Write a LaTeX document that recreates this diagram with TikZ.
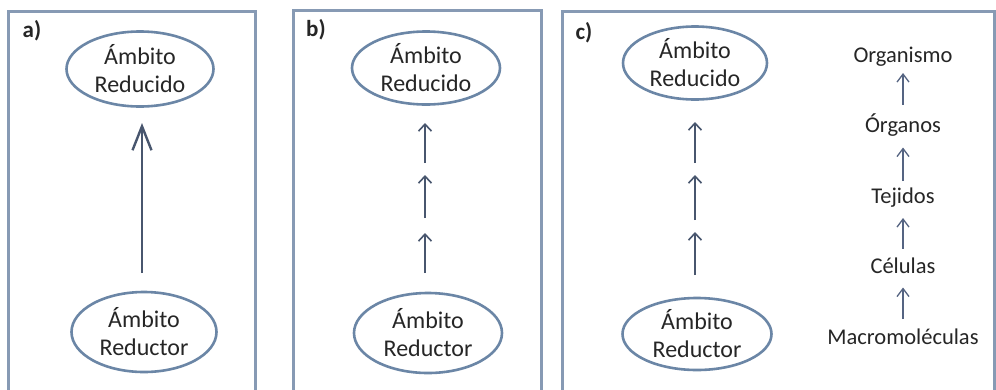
\documentclass[tikz,border=0pt]{standalone}
\usepackage{fontspec}
\setmainfont{Carlito}
\usetikzlibrary{shapes.geometric,arrows.meta,calc}
\definecolor{boxc}{RGB}{135,154,180}
\definecolor{ellc}{RGB}{107,134,166}
\definecolor{arrc}{RGB}{72,86,110}
\definecolor{thinc}{RGB}{85,100,130}
\definecolor{txtc}{RGB}{38,38,38}
\begin{document}
\begin{tikzpicture}[x=1pt,y=-1pt,
  ell/.style={ellipse,draw=ellc,line width=2.6pt,inner sep=0pt,align=center,
    font=\fontsize{24}{28}\selectfont,text=txtc},
  frame/.style={draw=boxc,line width=3pt},
  lbl/.style={font=\fontsize{23}{26}\selectfont\bfseries,text=txtc,inner sep=0pt},
  lvl/.style={font=\fontsize{22.5}{26}\selectfont,text=txtc,inner sep=0pt,anchor=base},
  bigarr/.style={draw=arrc,line width=2.4pt,-{Straight Barb[length=24pt,width=19pt,line width=2.4pt]}},
  smallarr/.style={draw=arrc,line width=2pt,-{Straight Barb[length=7pt,width=13pt,line width=1.6pt]}},
  thinarr/.style={draw=thinc,line width=1.5pt,-{Straight Barb[length=8pt,width=12pt,line width=1.3pt]}}]
\useasboundingbox (0,0) rectangle (996,389);
\fill[white] (0,0) rectangle (996,389);
% frames
\draw[frame] (8.5,11.5) rectangle (255,400);
\draw[frame] (293,10.5) rectangle (541,400);
\draw[frame] (562,11.5) rectangle (994,400);
% labels
\node[lbl] (la) at (32,31) {a)};
\node[lbl] (lb) at (316,30) {b)};
\node[lbl] (lc) at (584,33) {c)};
% panel a
\node[ell,minimum width=147pt,minimum height=75pt] (atop) at (140,69) {Ámbito\\Reducido};
\node[ell,minimum width=145pt,minimum height=80pt] (abot) at (144,332) {Ámbito\\Reductor};
\coordinate (a0) at (142,273);
\coordinate (a1) at (142,123);
\draw[bigarr] (a0) -- (a1);
% panel b
\node[ell,minimum width=148pt,minimum height=73pt] (btop) at (426,68) {Ámbito\\Reducido};
\node[ell,minimum width=148pt,minimum height=80pt] (bbot) at (428,333) {Ámbito\\Reductor};
\coordinate (b0) at (425,273);
\coordinate (b1) at (425,233);
\coordinate (b2) at (425,218);
\coordinate (b3) at (425,175);
\coordinate (b4) at (425,163);
\coordinate (b5) at (425,123);
\draw[smallarr] (b0) -- (b1);
\draw[smallarr] (b2) -- (b3);
\draw[smallarr] (b4) -- (b5);
% panel c
\node[ell,minimum width=144pt,minimum height=73pt] (ctop) at (695,63) {Ámbito\\Reducido};
\node[ell,minimum width=149pt,minimum height=72pt] (cbot) at (697,334) {Ámbito\\Reductor};
\coordinate (c0) at (695,275);
\coordinate (c1) at (695,232);
\coordinate (c2) at (695,220);
\coordinate (c3) at (695,175);
\coordinate (c4) at (695,163);
\coordinate (c5) at (695,122);
\draw[smallarr] (c0) -- (c1);
\draw[smallarr] (c2) -- (c3);
\draw[smallarr] (c4) -- (c5);
% levels
\node[lvl] (org) at (903,62) {Organismo};
\node[lvl] (orn) at (903,132.5) {Órganos};
\node[lvl] (tej) at (903,203) {Tejidos};
\node[lvl] (cel) at (903,273.5) {Células};
\node[lvl] (mac) at (903,344) {Macromoléculas};
\draw[thinarr] ($(orn.base)+(0,-28)$) -- ($(org.base)+(0,11)$);
\draw[thinarr] ($(tej.base)+(0,-22)$) -- ($(orn.base)+(0,15)$);
\draw[thinarr] ($(cel.base)+(0,-25)$) -- ($(tej.base)+(0,15)$);
\draw[thinarr] ($(mac.base)+(0,-25)$) -- ($(cel.base)+(0,14)$);
\end{tikzpicture}
\end{document}
